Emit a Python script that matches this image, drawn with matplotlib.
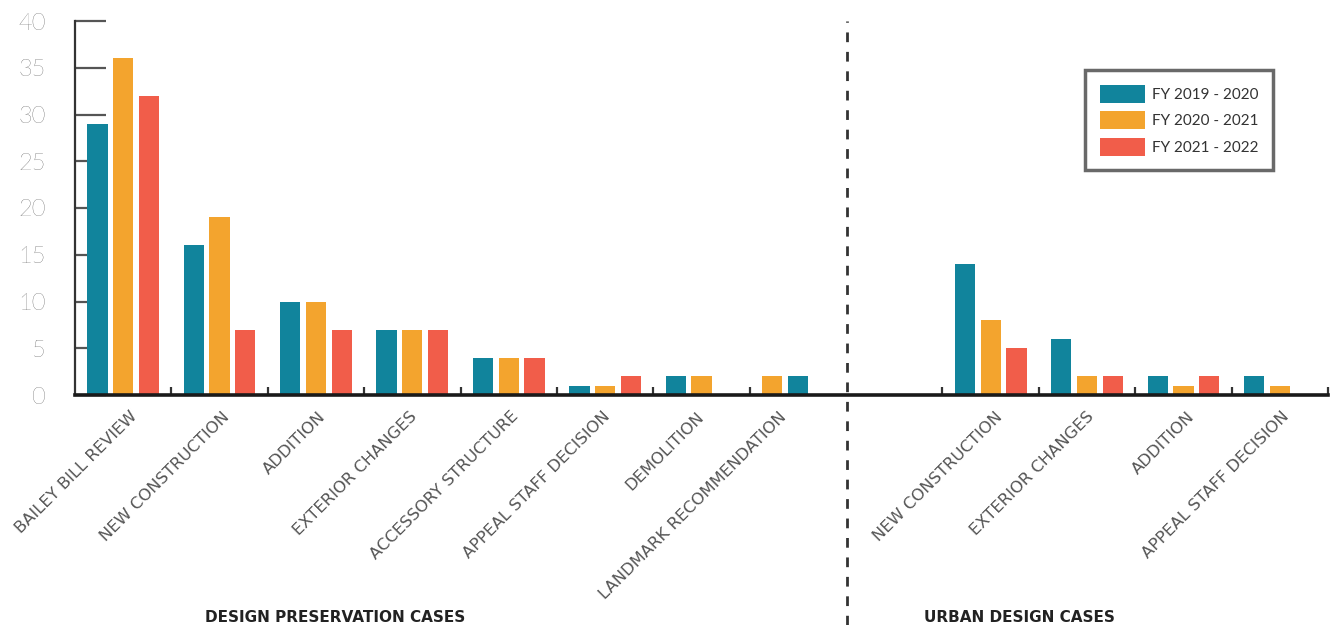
import matplotlib
matplotlib.use("Agg")
import matplotlib.pyplot as plt
from matplotlib.patches import Patch

# ---- data ----
series_names = ["FY 2019 - 2020", "FY 2020 - 2021", "FY 2021 - 2022"]
series_colors = ["#11849c", "#f3a42e", "#f15d4a"]

preservation_cats = ["BAILEY BILL REVIEW", "NEW CONSTRUCTION", "ADDITION",
                     "EXTERIOR CHANGES", "ACCESSORY STRUCTURE",
                     "APPEAL STAFF DECISION", "DEMOLITION",
                     "LANDMARK RECOMMENDATION"]
preservation_fy20 = [29, 16, 10, 7, 4, 1, 2, 2]
preservation_fy21 = [36, 19, 10, 7, 4, 1, 2, 2]
preservation_fy22 = [32, 7, 7, 7, 4, 2, 0, 0]

urban_cats = ["NEW CONSTRUCTION", "EXTERIOR CHANGES", "ADDITION",
              "APPEAL STAFF DECISION"]
urban_fy20 = [14, 6, 2, 2]
urban_fy21 = [8, 2, 1, 1]
urban_fy22 = [5, 2, 2, 0]

y_ticks = [0, 5, 10, 15, 20, 25, 30, 35, 40]
section_titles = ["DESIGN PRESERVATION CASES", "URBAN DESIGN CASES"]

# ---- layout of groups: 8 preservation groups, one blank, 4 urban groups ----
n_pres = len(preservation_cats)
n_urb = len(urban_cats)
pres_centers = [i + 0.5 for i in range(n_pres)]
urb_centers = [n_pres + 1 + i + 0.5 for i in range(n_urb)]
n_groups = n_pres + 1 + n_urb

categories = preservation_cats + urban_cats
centers = pres_centers + urb_centers
values = [preservation_fy20 + urban_fy20,
          preservation_fy21 + urban_fy21,
          preservation_fy22 + urban_fy22]

offset = 0.267
bar_w = 0.21
# slot order per group (the landmark group lists FY 2020-2021 first)
slot_order = [[0, 1, 2]] * len(categories)
slot_order[n_pres - 1] = [1, 0, 2]

# horizontal nudges (points) for the rotated category labels
label_nudge = [1.5, -1.5, -2, -5.5, -2, -5, -7, -16.5, 0, -3.5, -0.5, -2]

fig = plt.figure(figsize=(13.33, 6.25), dpi=100)
ax = fig.add_axes([75 / 1333, 1 - 395 / 625, 1253 / 1333, 374 / 625])
ax.set_axisbelow(True)

for s in range(3):
    xs = [c + (slot_order[g][s] - 1) * offset for g, c in enumerate(centers)]
    ax.bar(xs, values[s], width=bar_w, color=series_colors[s], zorder=3,
           linewidth=0)

ax.set_xlim(0, n_groups)
ax.set_ylim(0, 40)

# spines
for side in ("top", "right"):
    ax.spines[side].set_visible(False)
ax.spines["left"].set_color("#333333")
ax.spines["left"].set_linewidth(1.6)
ax.spines["bottom"].set_color("#1a1a1a")
ax.spines["bottom"].set_linewidth(2.6)
ax.spines["bottom"].set_zorder(4)

# y ticks drawn inward, hidden behind bars
ax.set_yticks(y_ticks)
ax.set_yticklabels([str(v) for v in y_ticks], family="Lato", weight="light",
                   fontsize=17, color="#333333")
ax.tick_params(axis="y", direction="in", length=22, width=1.6,
               color="#555555", pad=21)

# x ticks at group boundaries
boundaries = [i for i in range(1, n_groups + 1) if i != n_pres]
ax.set_xticks(boundaries)
ax.set_xticklabels([])
ax.tick_params(axis="x", direction="in", length=6, width=1.6,
               color="#333333")

# rotated category labels
for c, lab, dx in zip(centers, categories, label_nudge):
    ax.annotate(lab, xy=(c, 0), xycoords=("data", "axes fraction"),
                xytext=(3 + dx, -10), textcoords="offset points",
                rotation=45, rotation_mode="anchor", ha="right", va="top",
                fontsize=11.8, color="#555555", family="DejaVu Sans")

# section divider
fig.add_artist(plt.Line2D([847 / 1333, 847 / 1333], [0, 1 - 21 / 625],
                          color="#333333", linewidth=2,
                          linestyle=(0, (3.5, 3.5))))

# section titles
fig.text(335 / 1333, 1 - 617 / 625, section_titles[0], ha="center",
         va="center", fontsize=11, weight="bold", color="#222222")
fig.text(1019 / 1333, 1 - 617 / 625, section_titles[1], ha="center",
         va="center", fontsize=11, weight="bold", color="#222222")

# legend
handles = [Patch(facecolor=c, edgecolor="none") for c in series_colors]
leg = fig.legend(handles, series_names, loc="upper left",
                 bbox_to_anchor=(1085 / 1333, 1 - 70 / 625),
                 borderaxespad=0, frameon=True, fancybox=False,
                 prop={"family": "Lato", "size": 11},
                 handlelength=3.0, handleheight=1.45, handletextpad=0.45,
                 labelspacing=0.55, borderpad=0.95, labelcolor="#333333")
leg.get_frame().set_edgecolor("#444444")
leg.get_frame().set_linewidth(2.5)

fig.savefig("out.png", dpi=100)
